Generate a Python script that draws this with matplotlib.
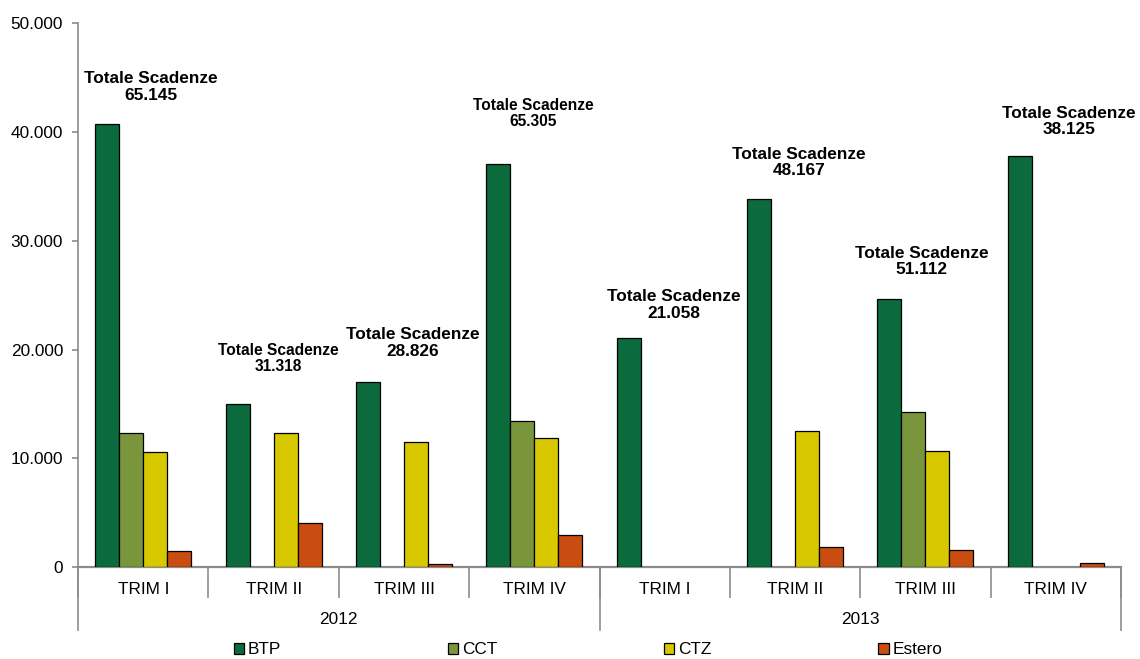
import matplotlib
matplotlib.use("Agg")
import matplotlib.pyplot as plt
import matplotlib.ticker as ticker
from matplotlib.patches import Patch
import numpy as np

plt.rcParams['font.family'] = ['Liberation Sans', 'DejaVu Sans']

# data (millions of euro)
quarters = ["TRIM I", "TRIM II", "TRIM III", "TRIM IV", "TRIM I", "TRIM II", "TRIM III", "TRIM IV"]
years = ["2012", "2013"]
series = ["BTP", "CCT", "CTZ", "Estero"]
btp = [40755, 15000, 17046, 37061, 21058, 33817, 24647, 37785]
cct = [12300, 0, 0, 13460, 0, 0, 14260, 0]
ctz = [10610, 12300, 11530, 11840, 0, 12480, 10640, 0]
estero = [1480, 4018, 250, 2944, 0, 1870, 1565, 340]
totals = ["65.145", "31.318", "28.826", "65.305", "21.058", "48.167", "51.112", "38.125"]

# where the "Totale Scadenze" boxes sit (x offset from group centre, y in data units, font size)
label_dx = [0.06, 0.04, 0.07, -0.01, 0.07, 0.03, -0.03, 0.10]
label_y = [44150, 19180, 20600, 41720, 24100, 37210, 28100, 40980]
label_fs = [12.4, 11.2, 12.4, 11.2, 12.4, 12.4, 12.4, 12.4]

colors = ["#0B6B3C", "#7A963C", "#D8C800", "#C94C10"]
grey = "#8C8C8C"

fig = plt.figure(figsize=(11.4, 6.59), dpi=100)
ax = fig.add_axes([78 / 1140, 92 / 659, 1043 / 1140, 543.5 / 659])

centers = np.arange(len(quarters)) + 0.5
width = 0.184
for k, (name, vals) in enumerate(zip(series, [btp, cct, ctz, estero])):
    vals = np.array(vals, dtype=float)
    xs = centers + (k - 1.5) * width
    mask = vals > 0
    ax.bar(xs[mask], vals[mask], width=width, color=colors[k],
           edgecolor="black", linewidth=0.9, zorder=3)

# total labels
for i, t in enumerate(totals):
    ax.text(centers[i] + label_dx[i], label_y[i], "Totale Scadenze\n" + t,
            ha="center", va="center", fontsize=label_fs[i], fontweight="bold",
            linespacing=1.15)

ax.set_xlim(0, len(quarters))
ax.set_ylim(0, 50000)
ax.yaxis.set_major_locator(ticker.MultipleLocator(10000))
ax.yaxis.set_major_formatter(ticker.FuncFormatter(lambda v, p: f"{int(v):,}".replace(",", ".")))

for s in ["top", "right"]:
    ax.spines[s].set_visible(False)
ax.spines["left"].set_color(grey)
ax.spines["bottom"].set_color(grey)
ax.spines["left"].set_linewidth(1.2)
ax.spines["bottom"].set_linewidth(1.6)

ax.tick_params(axis="y", direction="out", length=4.3, width=1.2, color=grey,
               labelsize=12.4, pad=6.5)

# category axis: quarter labels, separators between quarters
ax.set_xticks(centers)
ax.set_xticklabels(quarters)
ax.tick_params(axis="x", which="major", length=0, labelsize=12.4, pad=10.5)
ax.set_xticks(np.arange(len(quarters) + 1), minor=True)
ax.tick_params(axis="x", which="minor", length=22.3, width=1.2, color=grey)

# year level: longer separators and labels
trans = ax.get_xaxis_transform()
for xb in [0, 4, 8]:
    ax.plot([xb, xb], [0, -63 / 543.5], transform=trans, color=grey,
            linewidth=1.2, clip_on=False)
for j, y in enumerate(years):
    ax.text(2 + 4 * j, -52 / 543.5, y, transform=trans, ha="center", va="center",
            fontsize=12.4)

handles = [Patch(facecolor=c, edgecolor="black", linewidth=0.9) for c in colors]
fig.legend(handles, series, loc="center", bbox_to_anchor=(588 / 1140, 1 - 650 / 659),
           ncol=4, frameon=False, fontsize=12.4, handlelength=0.6, handleheight=0.6,
           handletextpad=0.2, columnspacing=9.7, borderpad=0)

plt.savefig("out.png", dpi=100)
plt.close(fig)
